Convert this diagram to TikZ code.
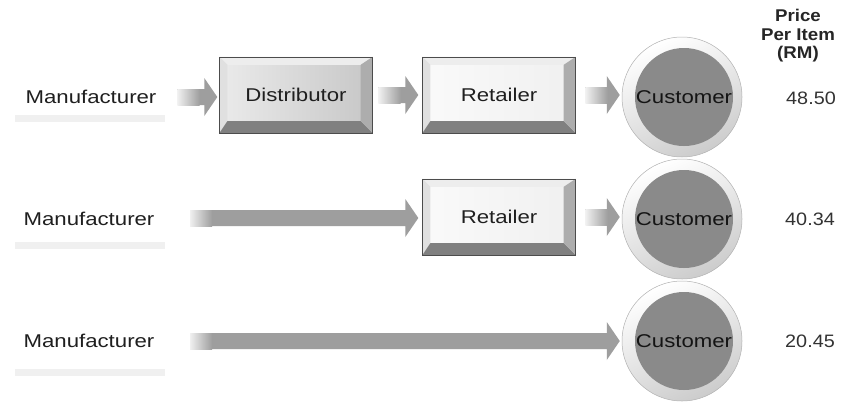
\documentclass[tikz,border=0pt]{standalone}
\usepackage{fontspec}
\setmainfont{Liberation Sans}
\usetikzlibrary{calc}
\tikzset{
  lbl/.style={font=\fontsize{18.5}{20}\selectfont, inner sep=0pt, text=black!88},
  box/.style={minimum width=153pt, minimum height=76pt, inner sep=0pt, font=\fontsize{18.5}{20}\selectfont, text=black!88},
  ring/.style={circle, minimum size=120pt, inner sep=0pt, draw=black!30, line width=0.5pt,
    shading=axis, top color=white, bottom color=black!20, shading angle=25},
  disk/.style={circle, minimum size=98pt, inner sep=0pt, fill=black!46,
    font=\fontsize{18.5}{20}\selectfont, text=black!92},
  refl/.style={fill=black!6},
  price/.style={font=\fontsize{18}{20}\selectfont, inner sep=0pt, text=black!80},
}
\newcommand\wtxt[1]{\scalebox{1.2}[1]{#1}}
\newcommand\blockarrow[2]{%
  \fill[black!38] let \p1=(#1), \p2=(#2) in
    (\x1,\y1+8pt) -- (\x2-13pt,\y1+8pt) -- (\x2-13pt,\y1+19pt) -- (\x2,\y1)
    -- (\x2-13pt,\y1-19pt) -- (\x2-13pt,\y1-8pt) -- (\x1,\y1-8pt) -- cycle;
  \shade[left color=black!6, right color=black!38] let \p1=(#1) in
    (\x1,\y1+8pt) rectangle (\x1+22pt,\y1-8pt);}
\newcommand\bevelbox[5]{%
  \node[box, shading=axis, left color=#4, right color=#5] (#1) at (#2) {\wtxt{#3}};
  \fill[black!7] (#1.north west) -- (#1.north east) -- ($(#1.north east)+(-12pt,-8pt)$) -- ($(#1.north west)+(8pt,-8pt)$) -- cycle;
  \fill[black!12] (#1.north west) -- (#1.south west) -- ($(#1.south west)+(8pt,12pt)$) -- ($(#1.north west)+(8pt,-8pt)$) -- cycle;
  \fill[black!50] (#1.south west) -- (#1.south east) -- ($(#1.south east)+(-12pt,12pt)$) -- ($(#1.south west)+(8pt,12pt)$) -- cycle;
  \fill[black!32] (#1.south east) -- (#1.north east) -- ($(#1.north east)+(-12pt,-8pt)$) -- ($(#1.south east)+(-12pt,12pt)$) -- cycle;
  \draw[black!70, line width=0.6pt] (#1.south west) rectangle (#1.north east);}
\begin{document}
\begin{tikzpicture}[x=1pt, y=-1pt]
\useasboundingbox (0,0) rectangle (848,402);
\fill[white] (0,0) rectangle (848,402);

% header
\node[font=\fontsize{17}{18.5}\selectfont\bfseries, align=center, inner sep=0pt, text=black!85] (hdr) at (798,36)
  {\scalebox{1.1}[1]{Price}\\\scalebox{1.1}[1]{Per Item}\\\scalebox{1.1}[1]{(RM)}};

% ---------- row 1 ----------
\node[lbl] (m1) at (91,97) {\wtxt{Manufacturer}};
\fill[refl] (15,115) rectangle (165,122);
\bevelbox{d1}{296,95}{Distributor}{black!8}{black!22}
\bevelbox{r1}{499,95}{Retailer}{black!2}{black!6}
\node[ring] (c1) at (682,97) {};
\node[disk] (k1) at (684,97) {\wtxt{Customer}};
\node[price] (p1) at (811,98) {\scalebox{1.1}[1]{48.50}};
\coordinate (s1a) at ($(m1.east)+(21pt,0)$);
\coordinate (e1a) at ($(d1.west)+(-2pt,0)$);
\blockarrow{s1a}{e1a}
\coordinate (s1b) at ($(d1.east)+(6pt,0)$);
\coordinate (e1b) at ($(r1.west)+(-4pt,0)$);
\blockarrow{s1b}{e1b}
\coordinate (s1c) at ($(r1.east)+(10pt,0)$);
\coordinate (e1c) at ($(c1.west)+(-2pt,0)$);
\blockarrow{s1c}{e1c}

% ---------- row 2 ----------
\node[lbl] (m2) at (89,219) {\wtxt{Manufacturer}};
\fill[refl] (15,242) rectangle (165,249);
\bevelbox{r2}{499,217}{Retailer}{black!2}{black!6}
\node[ring] (c2) at (682,219) {};
\node[disk] (k2) at (684,219) {\wtxt{Customer}};
\node[price] (p2) at (810,219) {\scalebox{1.1}[1]{40.34}};
\coordinate (s2a) at (190,218);
\coordinate (e2a) at ($(r2.west)+(-4pt,0)$);
\blockarrow{s2a}{e2a}
\coordinate (s2b) at ($(r2.east)+(10pt,0)$);
\coordinate (e2b) at ($(c2.west)+(-2pt,0)$);
\blockarrow{s2b}{e2b}

% ---------- row 3 ----------
\node[lbl] (m3) at (89,341) {\wtxt{Manufacturer}};
\fill[refl] (15,369) rectangle (165,376);
\node[ring] (c3) at (682,341) {};
\node[disk] (k3) at (684,341) {\wtxt{Customer}};
\node[price] (p3) at (810,341) {\scalebox{1.1}[1]{20.45}};
\coordinate (s3a) at (190,341);
\coordinate (e3a) at ($(c3.west)+(-2pt,0)$);
\blockarrow{s3a}{e3a}
\end{tikzpicture}
\end{document}
